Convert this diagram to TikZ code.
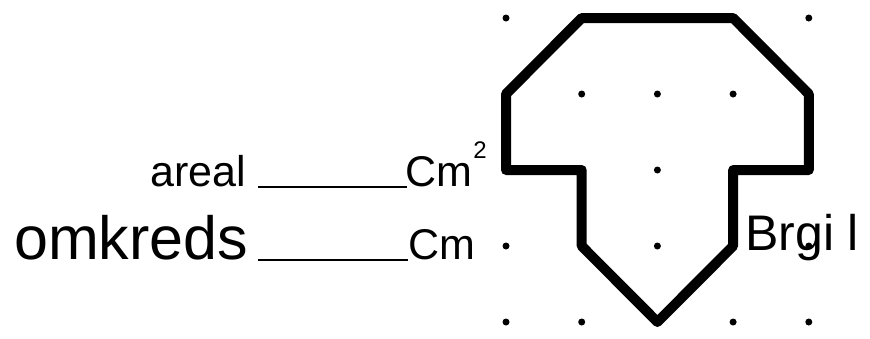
\documentclass[tikz,border=0pt]{standalone}
\usepackage{fontspec}
\setmainfont{Liberation Sans}
\begin{document}
\begin{tikzpicture}[x=1pt,y=-1pt,
  dotmark/.style={circle,fill=black,inner sep=0pt,minimum size=7pt},
  outline/.style={line width=10pt,line join=round,line cap=round},
  blank/.style={line width=2.5pt},
  hand/.style={inner sep=0pt,anchor=base}]
\useasboundingbox (0,0) rectangle (870,338);
% grid of dots
\foreach \i in {0,...,4}{
  \foreach \j in {0,...,4}{
    \node[dotmark] (d\i\j) at (506+75.7*\i,18+76*\j) {};
  }
}
% shape
\draw[outline] (d10.center) -- (d30.center) -- (d41.center) -- (d42.center)
  -- (d32.center) -- (d33.center) -- (d24.center) -- (d13.center)
  -- (d12.center) -- (d02.center) -- (d01.center) -- cycle;
% labels
\node[hand,anchor=base east,font=\fontsize{43}{43}\selectfont] (areal) at (246,186) {areal};
\node[hand,anchor=base west,font=\fontsize{43}{43}\selectfont] (cm1) at (405,186) {Cm};
\node[hand,font=\fontsize{24}{24}\selectfont] (sq) at (480,158) {2};
\coordinate (u1a) at (258,187);
\coordinate (u1b) at (407,187);
\draw[blank] (u1a) -- (u1b);
\node[hand,anchor=base west,font=\fontsize{61}{61}\selectfont] (omk) at (14,259) {omkreds};
\node[hand,anchor=base west,font=\fontsize{43}{43}\selectfont] (cm2) at (408,259) {Cm};
\coordinate (u2a) at (258,260);
\coordinate (u2b) at (408,260);
\draw[blank] (u2a) -- (u2b);
\node[hand,anchor=base west,font=\fontsize{50}{50}\selectfont] (name) at (745,250) {Brgi l};
\end{tikzpicture}
\end{document}
